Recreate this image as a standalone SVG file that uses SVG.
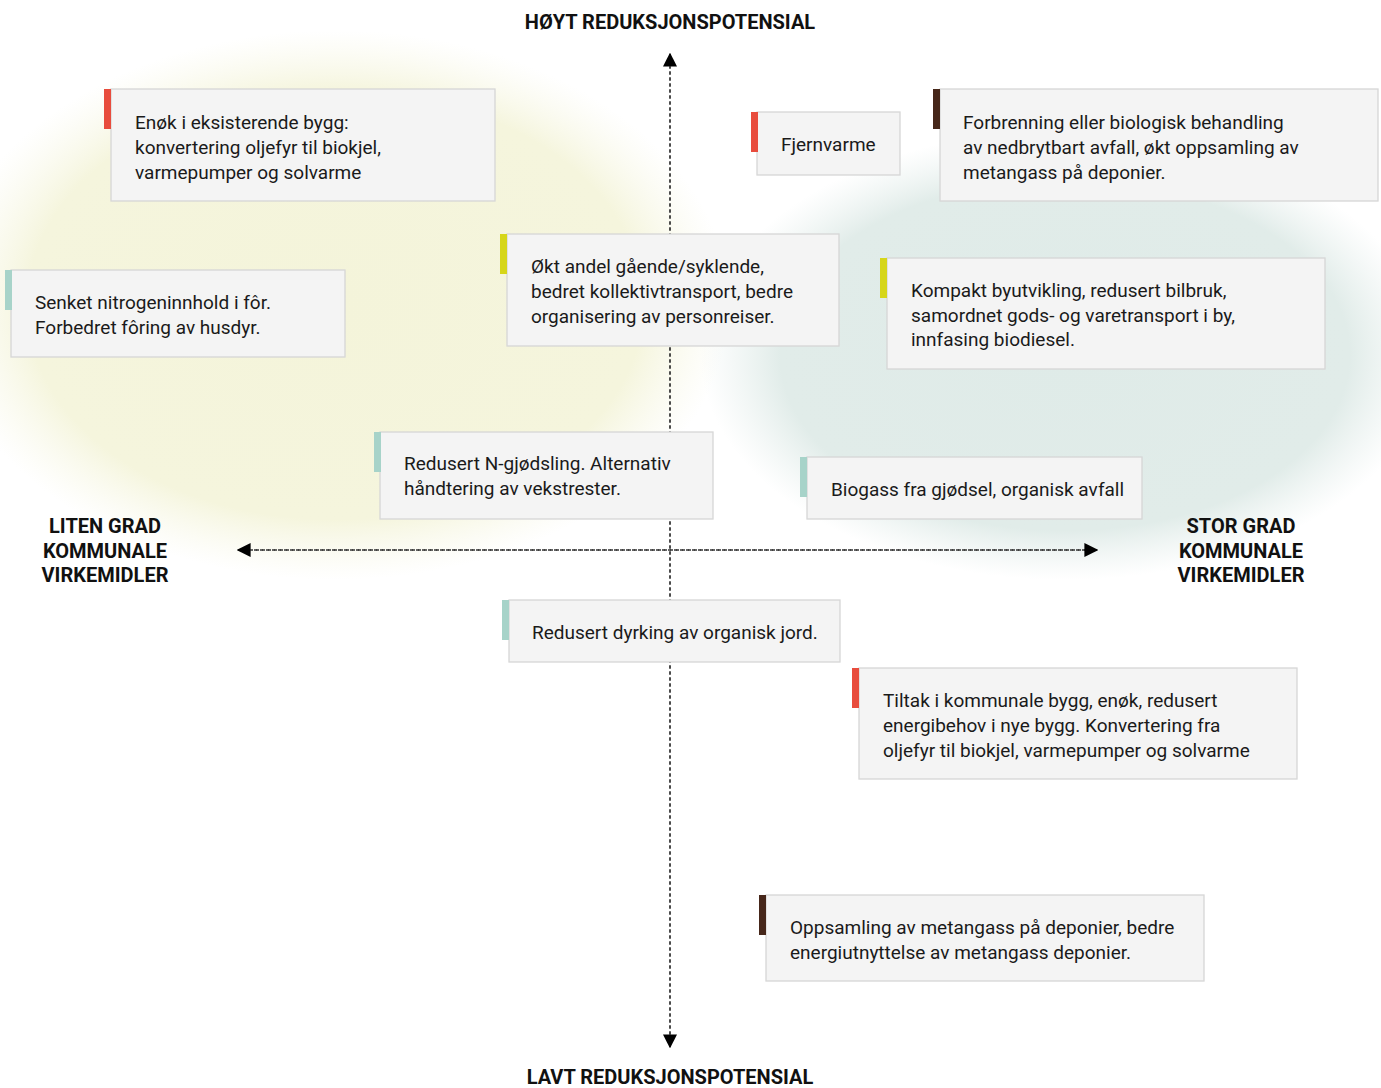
<svg xmlns="http://www.w3.org/2000/svg" width="1381" height="1088" viewBox="0 0 1381 1088">
<defs>
<radialGradient id="gy" cx="0.5" cy="0.5" r="0.5">
<stop offset="0" stop-color="#f4f4da"/>
<stop offset="0.78" stop-color="#f5f5dd"/>
<stop offset="1" stop-color="#f8f8e8" stop-opacity="0"/>
</radialGradient>
<radialGradient id="gt" cx="0.5" cy="0.5" r="0.5">
<stop offset="0" stop-color="#dfebe8"/>
<stop offset="0.78" stop-color="#e1ece9"/>
<stop offset="1" stop-color="#e8f0ee" stop-opacity="0"/>
</radialGradient>
<marker id="ah" viewBox="0 0 10 10" refX="9" refY="5" markerWidth="14" markerHeight="14" markerUnits="userSpaceOnUse" orient="auto">
<path d="M0,0 L10,5 L0,10 Z" fill="#000"/>
</marker>
<style>
.box{fill:#f4f4f4;stroke:#d6d6d6;stroke-width:1.3}
.t{font-family:Roboto,"Liberation Sans",sans-serif;font-size:19px;fill:#1a1a1a}
.h{font-family:Roboto,"Liberation Sans",sans-serif;font-size:20px;font-weight:bold;fill:#111}
.ax{stroke:#333;stroke-width:1.3;stroke-dasharray:3 3;fill:none}
.red{fill:#e84c3d}.brn{fill:#46271a}.yel{fill:#d6d619}.teal{fill:#a7d3c9}
</style>
</defs>
<ellipse cx="335" cy="305" rx="395" ry="275" fill="url(#gy)"/>
<ellipse cx="1065" cy="355" rx="365" ry="225" fill="url(#gt)"/>

<g id="connectors">
<line class="ax" x1="670" y1="1034" x2="670" y2="54" marker-end="url(#ah)"/>
<line class="ax" x1="670" y1="66" x2="670" y2="1047" marker-end="url(#ah)"/>
<line class="ax" x1="1085" y1="550" x2="238" y2="550" marker-end="url(#ah)"/>
<line class="ax" x1="250" y1="550" x2="1097" y2="550" marker-end="url(#ah)"/>
</g>

<g id="label-top"><text class="h" x="670" y="29" text-anchor="middle">HØYT REDUKSJONSPOTENSIAL</text></g>
<g id="label-bottom"><text class="h" x="670" y="1084" text-anchor="middle">LAVT REDUKSJONSPOTENSIAL</text></g>
<g id="label-left"><text class="h" text-anchor="middle"><tspan x="105" y="533">LITEN GRAD</tspan><tspan x="105" y="558">KOMMUNALE</tspan><tspan x="105" y="582">VIRKEMIDLER</tspan></text></g>
<g id="label-right"><text class="h" text-anchor="middle"><tspan x="1241" y="533">STOR GRAD</tspan><tspan x="1241" y="558">KOMMUNALE</tspan><tspan x="1241" y="582">VIRKEMIDLER</tspan></text></g>

<g id="n-enok">
<rect class="box" x="111" y="89" width="384" height="112"/><rect class="red" x="104" y="89" width="7" height="40"/>
<text class="t"><tspan x="135" y="129">Enøk i eksisterende bygg:</tspan><tspan x="135" y="154">konvertering oljefyr til biokjel,</tspan><tspan x="135" y="179">varmepumper og solvarme</tspan></text>
</g>
<g id="n-fjernvarme">
<rect class="box" x="757" y="112" width="143" height="63"/><rect class="red" x="751" y="112" width="7" height="40"/>
<text class="t" x="781" y="151">Fjernvarme</text>
</g>
<g id="n-forbrenning">
<rect class="box" x="940" y="89" width="438" height="112"/><rect class="brn" x="933" y="89" width="7" height="40"/>
<text class="t"><tspan x="963" y="129">Forbrenning eller biologisk behandling</tspan><tspan x="963" y="154">av nedbrytbart avfall, økt oppsamling av</tspan><tspan x="963" y="179">metangass på deponier.</tspan></text>
</g>
<g id="n-okt">
<rect class="box" x="507" y="234" width="332" height="112"/><rect class="yel" x="500" y="234" width="7" height="40"/>
<text class="t"><tspan x="531" y="273">Økt andel gående/syklende,</tspan><tspan x="531" y="298">bedret kollektivtransport, bedre</tspan><tspan x="531" y="323">organisering av personreiser.</tspan></text>
</g>
<g id="n-kompakt">
<rect class="box" x="887" y="258" width="438" height="111"/><rect class="yel" x="880" y="258" width="7" height="40"/>
<text class="t"><tspan x="911" y="297">Kompakt byutvikling, redusert bilbruk,</tspan><tspan x="911" y="322">samordnet gods- og varetransport i by,</tspan><tspan x="911" y="346">innfasing biodiesel.</tspan></text>
</g>
<g id="n-senket">
<rect class="box" x="11" y="270" width="334" height="87"/><rect class="teal" x="5" y="270" width="7" height="40"/>
<text class="t"><tspan x="35" y="309">Senket nitrogeninnhold i fôr.</tspan><tspan x="35" y="334">Forbedret fôring av husdyr.</tspan></text>
</g>
<g id="n-ngjodsling">
<rect class="box" x="380" y="432" width="333" height="87"/><rect class="teal" x="374" y="432" width="7" height="40"/>
<text class="t"><tspan x="404" y="470">Redusert N-gjødsling. Alternativ</tspan><tspan x="404" y="495">håndtering av vekstrester.</tspan></text>
</g>
<g id="n-biogass">
<rect class="box" x="807" y="457" width="335" height="62"/><rect class="teal" x="800" y="457" width="7" height="40"/>
<text class="t" x="831" y="496">Biogass fra gjødsel, organisk avfall</text>
</g>
<g id="n-dyrking">
<rect class="box" x="509" y="600" width="331" height="62"/><rect class="teal" x="502" y="600" width="7" height="40"/>
<text class="t" x="532" y="639">Redusert dyrking av organisk jord.</text>
</g>
<g id="n-tiltak">
<rect class="box" x="859" y="668" width="438" height="111"/><rect class="red" x="852" y="668" width="7" height="40"/>
<text class="t"><tspan x="883" y="707">Tiltak i kommunale bygg, enøk, redusert</tspan><tspan x="883" y="732">energibehov i nye bygg. Konvertering fra</tspan><tspan x="883" y="757">oljefyr til biokjel, varmepumper og solvarme</tspan></text>
</g>
<g id="n-oppsamling">
<rect class="box" x="766" y="895" width="438" height="86"/><rect class="brn" x="759" y="895" width="7" height="40"/>
<text class="t"><tspan x="790" y="934">Oppsamling av metangass på deponier, bedre</tspan><tspan x="790" y="959">energiutnyttelse av metangass deponier.</tspan></text>
</g>
</svg>
